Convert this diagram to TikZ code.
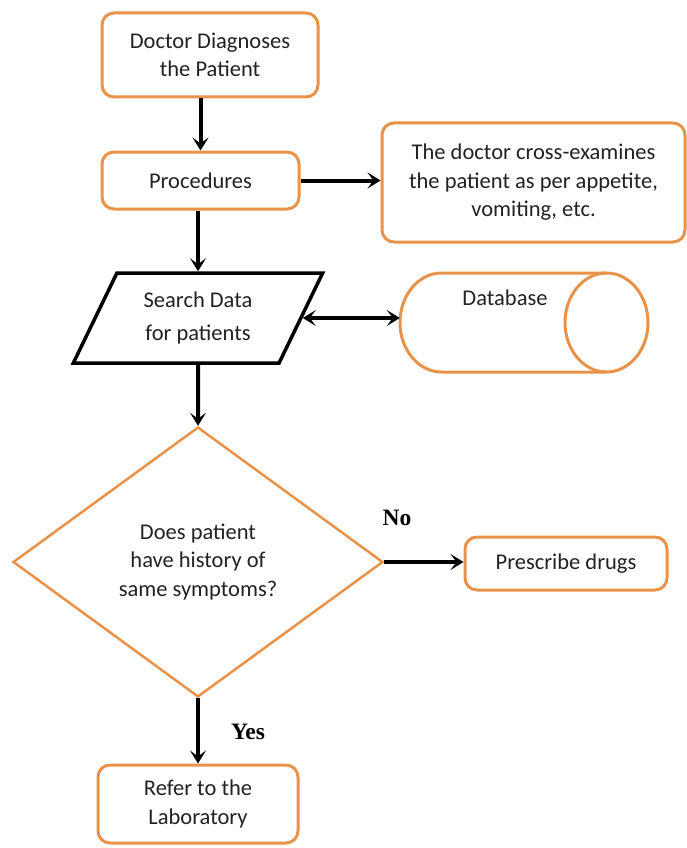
\documentclass[tikz,border=0pt]{standalone}
\usepackage{fontspec}
\setmainfont{Carlito}
\newfontfamily\labfont{Liberation Serif}
\usetikzlibrary{arrows.meta,shapes.geometric}
\definecolor{boxorange}{RGB}{232,146,74}
\definecolor{txtgray}{RGB}{34,34,34}
\begin{document}
\begin{tikzpicture}[x=1pt,y=-1pt,
  every node/.style={font=\fontsize{22.5}{28.5}\selectfont, text=txtgray, align=center},
  obox/.style={draw=boxorange, line width=3pt, rounded corners=12pt, fill=white, inner sep=0pt},
  arr/.style={line width=4pt, -{Stealth[length=13pt,width=16pt,inset=6pt]}},
  darr/.style={line width=4pt, {Stealth[length=13pt,width=16pt,inset=6pt]}-{Stealth[length=13pt,width=16pt,inset=6pt]}},
  lbl/.style={font=\labfont\bfseries\fontsize{23.5}{28}\selectfont, text=black}
]
\useasboundingbox (0,0) rectangle (686,848);
\node[obox, minimum width=216pt, minimum height=84pt] (diag) at (210,55) {Doctor Diagnoses\\the Patient};
\node[obox, minimum width=197pt, minimum height=57pt] (proc) at (200.5,180.5) {Procedures};
\node[obox, minimum width=303pt, minimum height=119pt] (cross) at (533.5,182.5) {The doctor cross-examines\\the patient as per appetite,\\vomiting, etc.};
\node[trapezium, trapezium left angle=61, trapezium right angle=119, trapezium stretches=true, draw=black, line width=3.5pt, minimum width=250pt, minimum height=90pt, inner sep=0pt] (search) at (198,318) {Search Data\\[5pt]for patients};
\node[minimum width=248pt, minimum height=99pt, inner sep=0pt] (db) at (524,322.5) {};
\draw[boxorange, line width=3pt] (441.5,273) -- (606.5,273) (441.5,372) -- (606.5,372)
  (441.5,273) arc[start angle=90,end angle=270,x radius=41.5pt,y radius=49.5pt];
\draw[boxorange, line width=3pt] (606.5,322.5) ellipse[x radius=41.5pt, y radius=49.5pt];
\node (dbt) at (505,298) {Database};
\node[diamond, draw=boxorange, line width=2.5pt, minimum width=370pt, minimum height=270pt, aspect=1.37, inner sep=0pt] (q) at (198,562) {Does patient\\have history of\\same symptoms?};
\node[obox, minimum width=202pt, minimum height=53pt] (presc) at (566,563.5) {Prescribe drugs};
\node[obox, minimum width=200pt, minimum height=78pt] (lab) at (198,804) {Refer to the\\Laboratory};
\draw[arr] (proc.north |- diag.south) -- (proc.north);
\draw[arr] (proc.east) -- (cross.west |- proc.east);
\draw[arr] (search.north |- proc.south) -- (search.north);
\draw[darr] (search.east) -- (db.west |- search.east);
\draw[arr] (search.south) -- (q.north);
\draw[arr] (q.east) -- (q.east -| presc.west);
\draw[arr] (q.south) -- (lab.north);
\node[lbl] (no) at (397,518) {No};
\node[lbl] (yes) at (248,732) {Yes};
\end{tikzpicture}
\end{document}
